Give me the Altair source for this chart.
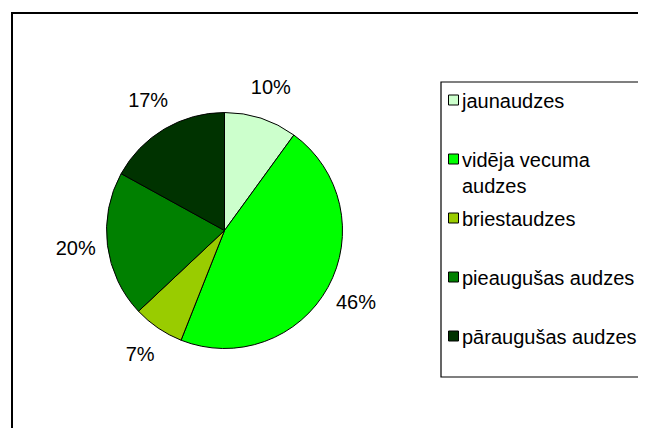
import altair as alt
import pandas as pd

categories = ["jaunaudzes", "vidēja vecuma audzes", "briestaudzes",
              "pieaugušas audzes", "pāraugušas audzes"]
legend_texts = ["jaunaudzes", "vidēja vecuma\naudzes", "briestaudzes",
                "pieaugušas audzes", "pāraugušas audzes"]
shares = [10, 46, 7, 20, 17]
colors = ["#CCFFCC", "#00FF00", "#99CC00", "#008000", "#003300"]

df = pd.DataFrame({
    "category": categories,
    "legend_text": legend_texts,
    "share": shares,
    "order": list(range(len(categories))),
    "label": [f"{v}%" for v in shares],
})

FONT = "Liberation Sans"
CX, CY = 216.5, 222.5

color = alt.Color("category:N", scale=alt.Scale(domain=categories, range=colors), legend=None)
ypos = alt.Y("category:N", scale=alt.Scale(type="point", domain=categories, range=[92, 328], padding=0), axis=None)

base = alt.Chart(df)
one = alt.Chart(pd.DataFrame({"k": [0]}))

frame = one.mark_rect(fill="white", fillOpacity=0, stroke="black", strokeWidth=2).encode(
    x=alt.value(4), x2=alt.value(900), y=alt.value(5), y2=alt.value(900))

legend_box = one.mark_rect(fill="white", fillOpacity=0, stroke="black", strokeWidth=1.2).encode(
    x=alt.value(433), x2=alt.value(900), y=alt.value(74), y2=alt.value(369))

pie = base.mark_arc(outerRadius=118, stroke="black", strokeWidth=1, x=CX, y=CY).encode(
    theta=alt.Theta("share:Q", stack=True),
    color=color,
    order=alt.Order("order:Q"),
)

labels = base.mark_text(radius=150, fontSize=20, font=FONT, color="black", x=CX, y=CY).encode(
    theta=alt.Theta("share:Q", stack=True),
    text="label:N",
    order=alt.Order("order:Q"),
)

leg_sym = base.mark_square(size=100, stroke="black", strokeWidth=1, opacity=1, filled=True).encode(
    x=alt.value(445.5), y=ypos, color=color)

leg_txt = base.mark_text(align="left", baseline="top", dy=-8.5, fontSize=20, font=FONT,
                         color="black", lineBreak="\n", lineHeight=26).encode(
    x=alt.value(454), y=ypos, text="legend_text:N")

chart = alt.layer(frame, legend_box, pie, labels, leg_sym, leg_txt).properties(
    width=630, height=420,
    autosize=alt.AutoSizeParams(type="none"),
    padding=0,
).resolve_scale(color="shared").configure_view(strokeWidth=0)

chart.save("out.html", embed_options={"renderer": "svg", "actions": False})
